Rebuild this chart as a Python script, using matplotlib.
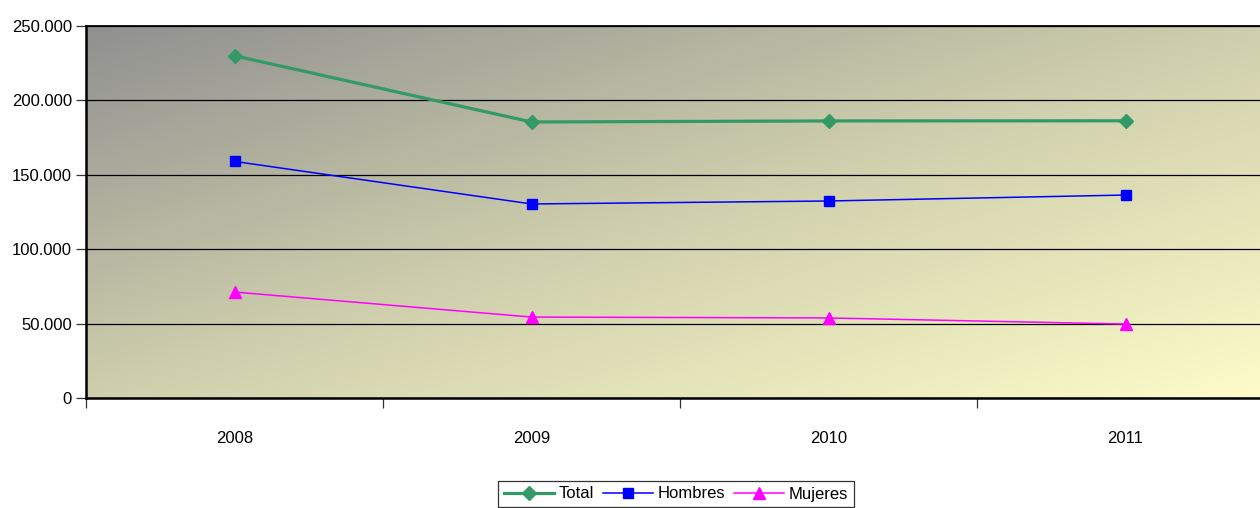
import numpy as np
import matplotlib.pyplot as plt
from matplotlib.colors import LinearSegmentedColormap
from matplotlib.ticker import FuncFormatter, FixedLocator

plt.rcParams['font.family'] = ['Liberation Sans', 'DejaVu Sans']

years = ['2008', '2009', '2010', '2011']
total = [230000, 185500, 186200, 186300]
hombres = [159000, 130400, 132400, 136400]
mujeres = [71200, 54400, 53800, 49700]

fig = plt.figure(figsize=(12.6, 5.08), dpi=100)
ax = fig.add_axes([86/1260, 110/508, 1188/1260, 372/508])

# diagonal gradient background: grey top-left -> pale yellow bottom-right
cmap = LinearSegmentedColormap.from_list('bg', ['#909090', '#cfcfad', '#fdfcc9'])
ny, nx = 200, 600
yy, xx = np.mgrid[0:ny, 0:nx]
grad = (xx / nx + yy / ny) / 2
ax.imshow(grad, cmap=cmap, extent=[-0.5, 3.5, 0, 250000], aspect='auto',
          origin='upper', zorder=0, interpolation='bilinear')

x = np.arange(len(years))
ax.plot(x, total, color='#339966', lw=2.3, marker='D', ms=7, label='Total', zorder=3)
ax.plot(x, hombres, color='#0000ff', lw=1.1, marker='s', ms=7, label='Hombres', zorder=3)
ax.plot(x, mujeres, color='#ff00ff', lw=1.1, marker='^', ms=8, label='Mujeres', zorder=3)

ax.set_xlim(-0.5, 3.5)
ax.set_ylim(0, 250000)
ax.set_yticks(np.arange(0, 250001, 50000))
ax.yaxis.set_major_formatter(FuncFormatter(lambda v, p: f'{int(v):,}'.replace(',', '.')))
ax.grid(axis='y', color='black', lw=0.9, zorder=1)

ax.xaxis.set_major_locator(FixedLocator([-0.5, 0.5, 1.5, 2.5, 3.5]))
ax.xaxis.set_major_formatter(FuncFormatter(lambda v, p: ''))
ax.xaxis.set_minor_locator(FixedLocator(x))
ax.set_xticklabels(years, minor=True)
ax.tick_params(axis='x', which='major', length=7, width=0.9, color='#333333')
ax.tick_params(axis='x', which='minor', length=0, pad=24, labelsize=12)
ax.tick_params(axis='y', length=7, width=0.9, color='#333333', labelsize=12, pad=3)

for s in ['left', 'bottom']:
    ax.spines[s].set_linewidth(1.8)
ax.spines['top'].set_linewidth(1.3)

leg = ax.legend(loc='center', bbox_to_anchor=(676/1260, 1 - 494/508),
                bbox_transform=fig.transFigure, ncol=3, fontsize=12,
                frameon=True, fancybox=False, edgecolor='black', handlelength=3.0,
                handletextpad=0.3, columnspacing=0.5, borderpad=0.35)
leg.get_frame().set_linewidth(0.9)

fig.savefig('out.png', dpi=100)
